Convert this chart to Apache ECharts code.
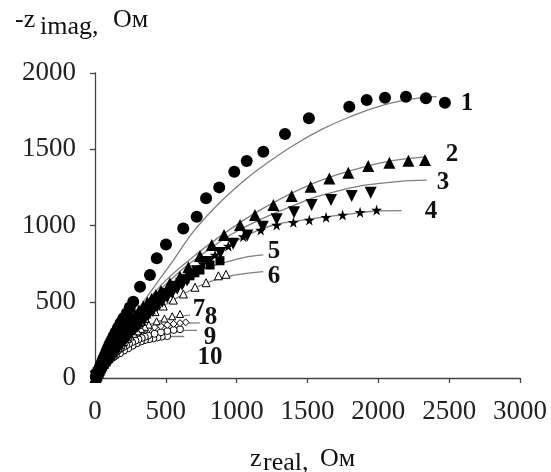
<!DOCTYPE html>
<html>
<head>
<meta charset="utf-8">
<script src="https://cdn.jsdelivr.net/npm/echarts@6/dist/echarts.min.js"></script>
<style>
html,body{margin:0;padding:0;background:#fff;}
#chart{width:551px;height:472px;}
</style>
</head>
<body>
<div id="chart"></div>
<script>
// Axis ticks
const xTicks = [0, 500, 1000, 1500, 2000, 2500, 3000];
const yTicks = [0, 500, 1000, 1500, 2000];
const curveLabels = ['1','2','3','4','5','6','7','8','9','10'];

// Measured points [Z real, -Z imag]
const pts1 = [[2470,1805],[2336,1834],[2195,1845],[2047,1838],[1918,1823],[1795,1779],[1510,1703],[1341,1600],[1188,1484],[1071,1423],[983,1353],[877,1250],[784,1178],[718,1058],[623,981],[501,876],[436,785],[388,675],[318,599],[270,500],[245,462],[224,424],[200,392],[180,360],[162,330],[145,300],[130,272],[115,245],[102,220],[90,195],[80,172],[70,150],[60,130],[52,110],[45,94],[38,78],[32,64],[27,52],[22,42],[18,32],[14,24],[10,16],[6,9]];
const pts2 = [[2329,1430],[2212,1425],[2078,1412],[1929,1390],[1788,1346],[1654,1309],[1522,1254],[1388,1193],[1259,1134],[1129,1069],[1024,1003],[911,938],[824,872],[741,800],[659,726],[600,664],[529,621],[466,570],[430,545],[400,520],[370,495],[341,470],[310,442],[282,415],[255,388],[230,360],[207,332],[185,305],[165,280],[145,255],[128,230],[112,205],[98,182],[85,160],[73,140],[62,120],[53,102],[45,85],[37,70],[30,55],[24,43],[18,32],[13,22],[8,14],[4,7]];
const pts3 = [[1946,1215],[1812,1193],[1666,1167],[1529,1134],[1405,1087],[1282,1041],[1184,992],[1075,935],[975,880],[885,820],[800,760],[720,700],[650,640],[615,612],[580,585],[545,558],[510,530],[475,500],[440,470],[408,440],[375,410],[345,382],[315,355],[287,328],[260,300],[235,275],[210,250],[187,225],[165,200],[145,178],[125,155],[108,135],[92,115],[78,98],[65,82],[53,66],[42,52],[33,41],[24,30],[17,21],[10,13],[5,6]];
const pts4 = [[1988,1102],[1871,1087],[1748,1069],[1631,1054],[1513,1036],[1400,1021],[1282,1003],[1170,970],[1047,927],[941,866],[847,807],[760,750],[680,690],[642,660],[605,630],[570,600],[535,570],[502,540],[470,510],[437,480],[405,450],[375,422],[345,395],[317,367],[290,340],[265,312],[240,285],[217,260],[195,235],[175,211],[155,188],[137,167],[120,148],[105,129],[90,110],[77,94],[64,78],[53,64],[42,50],[32,38],[22,26],[15,18],[8,10]];
const pts5 = [[882,769],[812,741],[741,708],[705,690],[670,670],[635,650],[600,630],[567,608],[535,585],[502,560],[470,535],[440,510],[410,485],[380,460],[350,435],[322,408],[295,380],[270,352],[245,325],[222,300],[200,275],[180,250],[160,225],[142,202],[125,180],[110,160],[95,140],[82,122],[70,105],[59,88],[48,72],[39,58],[30,45],[22,33],[15,22],[8,12]];
const pts6 = [[925,680],[871,670],[784,625],[706,595],[624,551],[553,511],[482,472],[424,435],[353,391],[325,370],[300,350],[275,330],[250,310],[227,289],[205,268],[185,246],[165,225],[147,205],[130,185],[115,166],[100,148],[87,130],[75,113],[64,97],[53,82],[44,68],[35,54],[27,42],[20,30],[14,21],[8,12]];
const pts7 = [[600,420],[545,405],[490,390],[435,372],[380,350],[352,336],[325,322],[300,306],[275,290],[250,272],[228,255],[206,236],[185,218],[166,199],[148,180],[131,162],[115,145],[101,128],[87,112],[75,97],[63,82],[52,68],[42,55],[33,43],[25,32],[17,22],[10,13]];
const pts8 = [[640,365],[600,360],[555,355],[510,348],[465,340],[420,332],[375,320],[352,313],[330,305],[307,295],[285,285],[262,274],[240,262],[220,249],[200,235],[180,220],[160,205],[142,189],[125,172],[110,156],[95,140],[82,124],[70,108],[59,93],[48,78],[39,64],[30,50],[22,37],[15,25],[8,13]];
const pts9 = [[600,320],[555,315],[510,308],[465,300],[420,290],[375,278],[352,270],[330,262],[307,254],[285,245],[262,235],[240,225],[220,214],[200,203],[180,191],[160,178],[142,164],[125,150],[110,136],[95,122],[82,108],[70,95],[59,81],[48,68],[39,56],[30,44],[22,33],[15,22],[8,12]];
const pts10 = [[510,275],[471,271],[441,266],[412,260],[383,255],[353,249],[324,239],[294,227],[265,212],[235,195],[205,180],[176,162],[147,146],[132,138],[118,129],[106,119],[94,108],[82,97],[71,85],[60,73],[50,62],[41,51],[32,40],[24,31],[17,22],[11,14],[6,8]];

// Fitted curves
const fit1 = [[0,0],[40,90],[100,180],[200,320],[318,468],[435,621],[553,772],[694,960],[859,1130],[1047,1290],[1200,1400],[1400,1525],[1600,1630],[1800,1713],[2035,1790],[2271,1834],[2412,1845]];
const fit2 = [[0,0],[50,95],[150,250],[300,430],[500,640],[700,800],[900,940],[1100,1065],[1300,1170],[1500,1260],[1700,1330],[1900,1385],[2100,1425],[2330,1450]];
const fit3 = [[0,0],[60,100],[200,300],[400,520],[600,700],[800,840],[976,949],[1212,1058],[1400,1130],[1565,1189],[1750,1235],[1918,1266],[2150,1290],[2341,1298]];
const fit4 = [[0,0],[80,120],[250,310],[450,500],[650,680],[850,810],[1050,925],[1250,1000],[1500,1040],[1750,1070],[2000,1095],[2165,1097]];
const fit5 = [[0,0],[100,150],[300,400],[500,580],[700,690],[894,752],[1050,790],[1188,807]];
const fit6 = [[0,0],[150,210],[350,390],[550,510],[750,610],[929,664],[1188,697]];
const fit7 = [[0,0],[100,150],[250,280],[400,355],[550,395],[670,412]];
const fit8 = [[0,0],[80,130],[200,240],[350,310],[500,345],[650,360],[740,362]];
const fit9 = [[0,0],[80,115],[200,200],[350,265],[500,300],[650,312],[720,312]];
const fit10 = [[0,0],[60,70],[150,150],[300,225],[450,262],[550,272],[630,272]];

const STAR = 'path://M50,0 L61,35 L98,35 L68,57 L79,91 L50,70 L21,91 L32,57 L2,35 L39,35 Z';
const FONT = '"Liberation Serif","Times New Roman",serif';

const markerDefs = [
  {d: pts1, symbol: 'circle', size: 12, fill: '#000'},
  {d: pts2, symbol: 'triangle', size: 12, fill: '#000'},
  {d: pts3, symbol: 'triangle', size: 12, fill: '#000', rotate: 180},
  {d: pts4, symbol: STAR, size: 11, fill: '#000'},
  {d: pts5, symbol: 'rect', size: 9, fill: '#000'},
  {d: pts6, symbol: 'triangle', size: 8, fill: '#fff'},
  {d: pts7, symbol: 'triangle', size: 7, fill: '#fff'},
  {d: pts8, symbol: 'diamond', size: 7, fill: '#fff'},
  {d: pts9, symbol: 'circle', size: 7, fill: '#fff'},
  {d: pts10, symbol: 'circle', size: 7, fill: '#fff'}
];
const fits = [fit1, fit2, fit3, fit4, fit5, fit6, fit7, fit8, fit9, fit10];

const series = [];
fits.forEach((f, i) => {
  series.push({
    name: 'fit ' + curveLabels[i], type: 'line', data: f, smooth: 0.4,
    showSymbol: false, symbol: 'none', silent: true, z: 3,
    lineStyle: {color: '#7f7f7f', width: 1.3}
  });
});
markerDefs.slice().reverse().forEach((m) => {
  series.push({
    type: 'scatter', data: m.d, symbol: m.symbol, symbolSize: m.size,
    symbolRotate: m.rotate || 0, z: 4,
    itemStyle: {color: m.fill, borderColor: '#000', borderWidth: m.fill === '#fff' ? 1 : 0, opacity: 1}
  });
});

// curve number annotations (pixel placement)
const labelPos = [[467,104],[452,155],[443,183],[431,212],[274,252],[274,277],[199,310],[211,318],[210,338],[210,358]];
const graphics = labelPos.map((p, i) => ({
  type: 'text', x: p[0], y: p[1], z: 10,
  style: {text: curveLabels[i], font: 'bold 25px ' + FONT, fill: '#111', align: 'center', verticalAlign: 'middle'}
}));
// axis titles
graphics.push(
  {type: 'text', x: 15, y: 33, style: {text: '-z', font: '26px ' + FONT, fill: '#111', verticalAlign: 'bottom'}},
  {type: 'text', x: 40, y: 40, style: {text: 'imag,', font: '26px ' + FONT, fill: '#111', verticalAlign: 'bottom'}},
  {type: 'text', x: 113, y: 33, style: {text: 'Ом', font: '26px ' + FONT, fill: '#111', verticalAlign: 'bottom'}},
  {type: 'text', x: 250, y: 472, style: {text: 'z', font: '26px ' + FONT, fill: '#111', verticalAlign: 'bottom'}},
  {type: 'text', x: 263, y: 476, style: {text: 'real,', font: '26px ' + FONT, fill: '#111', verticalAlign: 'bottom'}},
  {type: 'text', x: 320, y: 472, style: {text: 'Ом', font: '26px ' + FONT, fill: '#111', verticalAlign: 'bottom'}}
);

const chart = echarts.init(document.getElementById('chart'), null, {renderer: 'canvas'});
chart.setOption({
  backgroundColor: '#fff',
  animation: false,
  grid: {left: 95, right: 31, top: 73, bottom: 94, containLabel: false, outerBoundsMode: 'none'},
  xAxis: {
    type: 'value', min: xTicks[0], max: xTicks[xTicks.length - 1], interval: xTicks[1] - xTicks[0],
    splitLine: {show: false},
    axisLine: {show: true, onZero: false, lineStyle: {color: '#444', width: 1.3}},
    axisTick: {show: true, inside: false, length: 5, lineStyle: {color: '#444', width: 1.3}},
    axisLabel: {fontFamily: FONT, fontSize: 27, color: '#222', margin: 20, showMinLabel: true, showMaxLabel: true,
      formatter: (v) => String(v)}
  },
  yAxis: {
    type: 'value', min: yTicks[0], max: yTicks[yTicks.length - 1], interval: yTicks[1] - yTicks[0],
    splitLine: {show: false},
    axisLine: {show: true, onZero: false, lineStyle: {color: '#444', width: 1.3}},
    axisTick: {show: true, inside: false, length: 5, lineStyle: {color: '#444', width: 1.3}},
    axisLabel: {fontFamily: FONT, fontSize: 27, color: '#222', margin: 19, showMinLabel: true, showMaxLabel: true,
      formatter: (v) => String(v)}
  },
  series: series,
  graphic: graphics
});
</script>
</body>
</html>
